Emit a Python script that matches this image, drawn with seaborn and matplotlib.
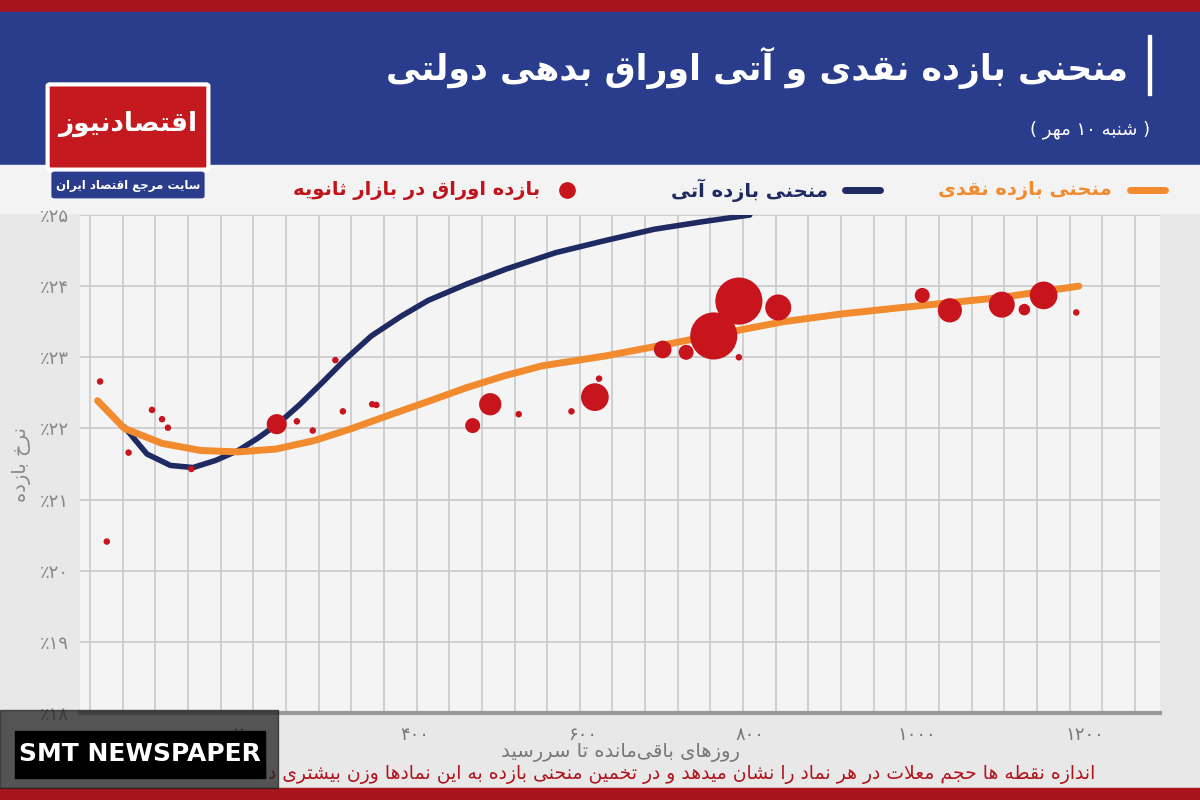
import numpy as np
import pandas as pd
import matplotlib
matplotlib.use("Agg")
import matplotlib.pyplot as plt
import seaborn as sns
from matplotlib.patches import Rectangle, FancyBboxPatch

# ---------------- data ----------------
bond_days = [24, 32, 58, 86, 98, 105, 133, 235, 259, 278, 305, 314, 349, 354, 469, 490, 524, 587, 615, 620,
             696, 724, 757, 787, 787, 834, 1006, 1039, 1101, 1128, 1151, 1190]
bond_yield = [22.66, 20.41, 21.66, 22.26, 22.13, 22.01, 21.43, 22.06, 22.10, 21.97, 22.96, 22.24, 22.34, 22.33,
              22.04, 22.34, 22.20, 22.24, 22.44, 22.70, 23.11, 23.07, 23.30, 23.79, 23.00, 23.70, 23.87, 23.66,
              23.74, 23.67, 23.87, 23.63]
bond_volume = [1, 1, 1, 1, 1, 1, 1, 5, 1, 1, 1, 1, 1, 1, 3, 6, 1, 1, 9, 1,
               4, 3, 25, 25, 1, 8, 3, 7, 8, 2, 9, 1]

spot_days = [21, 53, 98, 144, 189, 234, 280, 325, 370, 416, 461, 507, 552, 628, 700, 760, 840, 910, 982, 1100, 1193]
spot_yield = [22.39, 22.00, 21.79, 21.69, 21.67, 21.71, 21.83, 22.00, 22.19, 22.38, 22.57, 22.74, 22.88, 23.02,
              23.18, 23.32, 23.50, 23.61, 23.70, 23.84, 24.00]

fut_days = [53, 80, 108, 135, 162, 189, 212, 237, 262, 289, 316, 348, 384, 416, 462, 509, 568, 627, 686, 746, 800]
fut_yield = [22.02, 21.64, 21.48, 21.45, 21.55, 21.69, 21.86, 22.07, 22.33, 22.64, 22.96, 23.30, 23.58, 23.80,
             24.03, 24.24, 24.47, 24.64, 24.80, 24.91, 25.00]

x_ticks = [0, 200, 400, 600, 800, 1000, 1200]
y_ticks = [18, 19, 20, 21, 22, 23, 24, 25]

title = "منحنی بازده نقدی و آتی اوراق بدهی دولتی"
date_txt = "( شنبه ۱۰ مهر )"
leg_spot = "منحنی بازده نقدی"
leg_fut = "منحنی بازده آتی"
leg_bond = "بازده اوراق در بازار ثانویه"
xlabel = "روزهای باقی‌مانده تا سررسید"
ylabel = "نرخ بازده"
note = "اندازه نقطه ها حجم معلات در هر نماد را نشان میدهد و در تخمین منحنی بازده به این نمادها وزن بیشتری داده شده است."
logo_txt = "اقتصادنیوز"
logo_sub = "سایت مرجع اقتصاد ایران"

# ---------------- minimal Persian shaping ----------------
F = {  # iso, fin, ini, med
 'ا': (0xFE8D, 0xFE8E, None, None), 'آ': (0xFE81, 0xFE82, None, None),
 'ب': (0xFE8F, 0xFE90, 0xFE91, 0xFE92), 'پ': (0xFB56, 0xFB57, 0xFB58, 0xFB59),
 'ت': (0xFE95, 0xFE96, 0xFE97, 0xFE98), 'ث': (0xFE99, 0xFE9A, 0xFE9B, 0xFE9C),
 'ج': (0xFE9D, 0xFE9E, 0xFE9F, 0xFEA0), 'چ': (0xFB7A, 0xFB7B, 0xFB7C, 0xFB7D),
 'ح': (0xFEA1, 0xFEA2, 0xFEA3, 0xFEA4), 'خ': (0xFEA5, 0xFEA6, 0xFEA7, 0xFEA8),
 'د': (0xFEA9, 0xFEAA, None, None), 'ذ': (0xFEAB, 0xFEAC, None, None),
 'ر': (0xFEAD, 0xFEAE, None, None), 'ز': (0xFEAF, 0xFEB0, None, None),
 'ژ': (0xFB8A, 0xFB8B, None, None),
 'س': (0xFEB1, 0xFEB2, 0xFEB3, 0xFEB4), 'ش': (0xFEB5, 0xFEB6, 0xFEB7, 0xFEB8),
 'ص': (0xFEB9, 0xFEBA, 0xFEBB, 0xFEBC), 'ض': (0xFEBD, 0xFEBE, 0xFEBF, 0xFEC0),
 'ط': (0xFEC1, 0xFEC2, 0xFEC3, 0xFEC4), 'ظ': (0xFEC5, 0xFEC6, 0xFEC7, 0xFEC8),
 'ع': (0xFEC9, 0xFECA, 0xFECB, 0xFECC), 'غ': (0xFECD, 0xFECE, 0xFECF, 0xFED0),
 'ف': (0xFED1, 0xFED2, 0xFED3, 0xFED4), 'ق': (0xFED5, 0xFED6, 0xFED7, 0xFED8),
 'ک': (0xFB8E, 0xFB8F, 0xFB90, 0xFB91), 'گ': (0xFB92, 0xFB93, 0xFB94, 0xFB95),
 'ل': (0xFEDD, 0xFEDE, 0xFEDF, 0xFEE0), 'م': (0xFEE1, 0xFEE2, 0xFEE3, 0xFEE4),
 'ن': (0xFEE5, 0xFEE6, 0xFEE7, 0xFEE8), 'ه': (0xFEE9, 0xFEEA, 0xFEEB, 0xFEEC),
 'و': (0xFEED, 0xFEEE, None, None), 'ی': (0xFBFC, 0xFBFD, 0xFBFE, 0xFBFF),
}


def shape(s):
    s = s.replace('ي', 'ی').replace('ك', 'ک')
    out = []
    n = len(s)
    i = 0
    chars = list(s)
    tmp = []
    while i < n:
        if chars[i] == 'ل' and i + 1 < n and chars[i + 1] == 'ا':
            tmp.append('LA')
            i += 2
        else:
            tmp.append(chars[i])
            i += 1
    chars = tmp

    def joins_next(c):
        return c in F and F[c][2] is not None

    for k, c in enumerate(chars):
        prev = chars[k - 1] if k > 0 else None
        nxt = chars[k + 1] if k + 1 < len(chars) else None
        if c == 'LA':
            jp = prev is not None and joins_next(prev)
            out.append(chr(0xFEFC if jp else 0xFEFB))
            continue
        if c not in F:
            out.append(c)
            continue
        iso, fin, ini, med = F[c]
        jp = prev is not None and joins_next(prev)
        jn = ini is not None and nxt is not None and (nxt in F or nxt == 'LA')
        if jp and jn:
            out.append(chr(med))
        elif jp:
            out.append(chr(fin))
        elif jn:
            out.append(chr(ini))
        else:
            out.append(chr(iso))
    return ''.join(out)


def fa(s):
    sh = shape(s).replace('\u200c', '')
    runs = []
    cur = ''
    cur_d = None
    for ch in sh:
        d = ch.isdigit()
        if cur and d != cur_d:
            runs.append((cur, cur_d))
            cur = ''
        cur += ch
        cur_d = d
    if cur:
        runs.append((cur, cur_d))
    res = ''
    mirror = {'(': ')', ')': '('}
    for r, d in reversed(runs):
        if d:
            res += r
        else:
            res += ''.join(mirror.get(c, c) for c in reversed(r))
    return res


def fa_digits(v):
    return str(v).translate(str.maketrans('0123456789', '۰۱۲۳۴۵۶۷۸۹'))

# ---------------- figure ----------------
sns.set_theme(style="white")
plt.rcParams['font.family'] = ['DejaVu Sans']

NAVY = "#1f2a63"
ORANGE = "#f28a2e"
RED = "#c0141c"
HEADER = "#2a3c8c"

fig = plt.figure(figsize=(12, 8), dpi=100)
fig.patch.set_facecolor("#e6e6e6")

def R(x0, y0, w, h, c, z=0, alpha=1.0):
    fig.patches.append(Rectangle((x0 / 1200, 1 - (y0 + h) / 800), w / 1200, h / 800,
                                 transform=fig.transFigure, color=c, zorder=z, alpha=alpha))

R(0, 0, 1200, 800, "#e8e8e8", 0)
R(0, 0, 1200, 12, "#a8141b", 1)
R(0, 12, 1200, 153, HEADER, 1)
R(0, 165, 1200, 48, "#f3f3f3", 1)
R(0, 788, 1200, 12, "#a8141b", 1)

ax = fig.add_axes([80 / 1200, 1 - 713 / 800, 1080 / 1200, 498 / 800])
ax.set_zorder(3)
ax.set_facecolor("#f4f4f4")

df_b = pd.DataFrame({"days": bond_days, "yield": bond_yield, "vol": bond_volume})
df_s = pd.DataFrame({"days": spot_days, "yield": spot_yield})
df_f = pd.DataFrame({"days": fut_days, "yield": fut_yield})

sns.lineplot(data=df_f, x="days", y="yield", color=NAVY, lw=4, ax=ax, zorder=3, sort=True)
sns.lineplot(data=df_s, x="days", y="yield", color=ORANGE, lw=5, ax=ax, zorder=4, sort=True)
for l in ax.lines:
    l.set_solid_joinstyle("round")
    l.set_solid_capstyle("round")
sns.scatterplot(data=df_b, x="days", y="yield", size="vol", sizes=(22, 1150), color="#c8151d",
                edgecolor="none", ax=ax, zorder=5, legend=False)

ax.set_xlim(12, 1290)
ax.set_ylim(18, 25)
ax.set_xticks(x_ticks)
ax.set_xticklabels([fa_digits(v) for v in x_ticks], color="#777777", fontsize=13)
ax.set_yticks(y_ticks)
ax.set_yticklabels(['٪' + fa_digits(v) for v in y_ticks], color="#888888", fontsize=13)
ax.set_xticks(np.arange(12, 1290, 39), minor=True)
ax.grid(which="minor", axis="x", color="#c9c9c9", lw=1.2)
ax.grid(which="major", axis="y", color="#c9c9c9", lw=1.2)
ax.tick_params(axis="x", which="both", length=0, pad=9)
ax.tick_params(axis="y", length=0, pad=8)
for s in ax.spines.values():
    s.set_visible(False)
ax.spines["bottom"].set_visible(True)
ax.spines["bottom"].set_color("#999999")
ax.spines["bottom"].set_linewidth(3)
ax.set_xlabel(fa(xlabel), fontsize=14, color="#777777", labelpad=0)
ax.set_ylabel(fa(ylabel), fontsize=14, color="#888888", labelpad=6)

def T(x, y, s, **kw):
    fig.text(x / 1200, 1 - y / 800, s, **kw)

# header
T(1128, 68, fa(title), ha="right", va="center", color="white", fontsize=25, fontweight="bold", zorder=5)
R(1148, 35, 3, 60, "white", 5)
T(1150, 130, fa(date_txt), ha="right", va="center", color="white", fontsize=13, zorder=5)

# logo
fig.patches.append(FancyBboxPatch((50 / 1200, 1 - 168 / 800), 156 / 1200, 82 / 800, boxstyle="round,pad=0.002",
                                  transform=fig.transFigure, fc="#c41a1f", ec="white", lw=3, zorder=6))
T(128, 124, fa(logo_txt), ha="center", va="center", color="white", fontsize=19, fontweight="bold", zorder=7)
fig.patches.append(FancyBboxPatch((55 / 1200, 1 - 196 / 800), 146 / 1200, 22 / 800, boxstyle="round,pad=0.003",
                                  transform=fig.transFigure, fc=HEADER, ec="none", zorder=6))
T(128, 185, fa(logo_sub), ha="center", va="center", color="white", fontsize=8.5, fontweight="bold", zorder=7)

# legend
fig.lines.append(plt.Line2D([1130 / 1200, 1165 / 1200], [1 - 190 / 800] * 2, color=ORANGE, lw=5, transform=fig.transFigure, zorder=6))
T(1112, 190, fa(leg_spot), ha="right", va="center", color=ORANGE, fontsize=14, fontweight="bold", zorder=6)
fig.lines.append(plt.Line2D([845 / 1200, 880 / 1200], [1 - 190 / 800] * 2, color=NAVY, lw=5, transform=fig.transFigure, zorder=6))
T(828, 190, fa(leg_fut), ha="right", va="center", color=NAVY, fontsize=14, fontweight="bold", zorder=6)
fig.lines.append(plt.Line2D([567 / 1200], [1 - 190 / 800], marker="o", ms=11, color="#c8151d", transform=fig.transFigure, zorder=6))
T(540, 190, fa(leg_bond), ha="right", va="center", color=RED, fontsize=14, fontweight="bold", zorder=6)

# footnote
T(1095, 775, fa(note), ha="right", va="center", color="#b0141c", fontsize=13.5, zorder=5)

# watermark box
R(0, 710, 278, 78, "#222222", 8, alpha=0.75)
R(15, 731, 250, 47, "#000000", 9)
T(140, 754, "SMT NEWSPAPER", ha="center", va="center", color="white", fontsize=18, fontweight="bold", zorder=10)

fig.savefig("out.png", dpi=100, facecolor=fig.get_facecolor())
